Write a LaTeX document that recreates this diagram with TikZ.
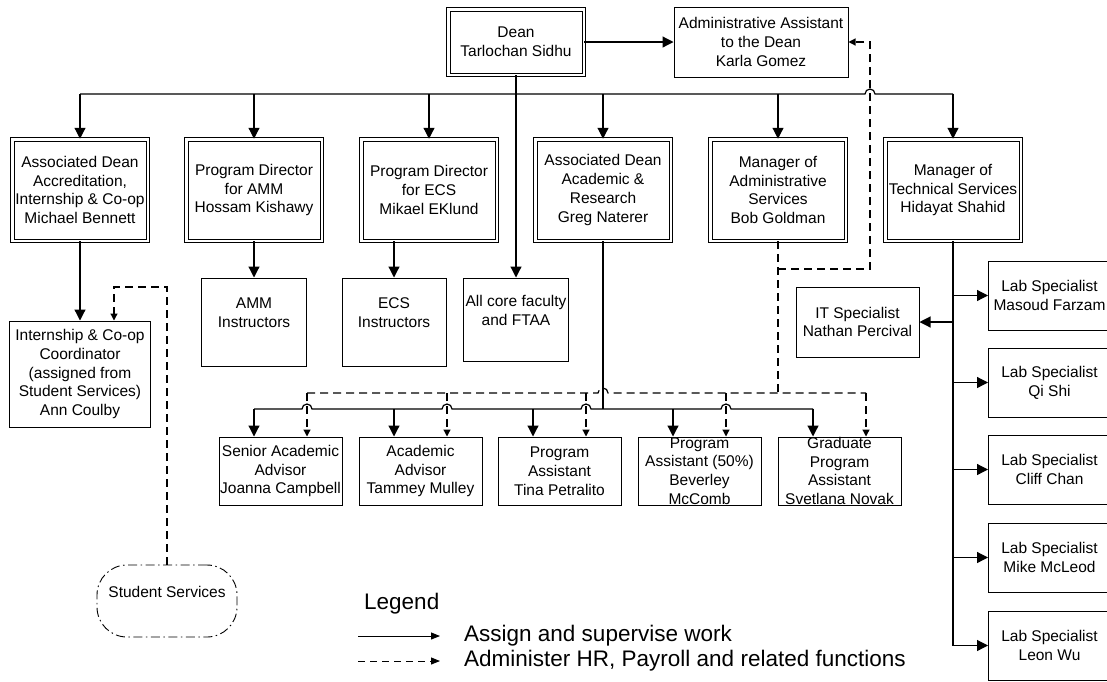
\documentclass[tikz,border=0pt]{standalone}
\usepackage{fontspec}
\setmainfont{Liberation Sans}
\usetikzlibrary{arrows.meta}

\newcommand{\boxfont}{\fontsize{15.5}{18.8}\selectfont}
\newcommand{\legfont}{\fontsize{22.5}{26}\selectfont}

\begin{document}
\begin{tikzpicture}[x=1pt,y=1pt,
		conn/.style={line width=1.2pt},
		hrline/.style={line width=1.2pt, dash pattern=on 8pt off 5pt},
		assign/.style={conn, -{Triangle[length=11pt,width=11pt]}},
		hr/.style={hrline, -{Triangle[length=7pt,width=7pt]}},
		sbox/.style={draw, line width=1pt, rectangle, inner sep=0pt, align=center, font=\boxfont},
		dbox/.style={sbox, double, double distance=2.5pt},
		lvltwo/.style={dbox, minimum width=135.5pt, minimum height=101.5pt},
		instr/.style={sbox, minimum height=88pt},
		staff/.style={sbox, minimum width=123pt, minimum height=68pt},
		lab/.style={sbox, anchor=west, minimum width=122pt, minimum height=69pt}]
		\useasboundingbox (0,0) rectangle (1107,-681);
		% top
		\node[dbox, minimum width=135.5pt, minimum height=65.5pt] (dean) at (516,-42) {Dean\\Tarlochan Sidhu};
		\node[sbox, minimum width=174pt, minimum height=70pt] (asst) at (761,-42) {Administrative Assistant\\to the Dean\\Karla Gomez};
		% second row
		\node[lvltwo] (accr) at (80,-190) {Associated Dean\\Accreditation,\\Internship \& Co-op\\Michael Bennett};
		\node[lvltwo] (amm) at (254,-190) {Program Director\\for AMM\\Hossam Kishawy};
		\node[lvltwo] (ecs) at (429,-190) {Program Director\\for ECS\\Mikael EKlund};
		\node[lvltwo] (acad) at (603,-190) {Associated Dean\\Academic \&\\Research\\Greg Naterer};
		\node[lvltwo] (adm) at (778,-190) {Manager of\\Administrative\\Services\\Bob Goldman};
		\node[lvltwo] (tech) at (953,-190) {Manager of\\Technical Services\\Hidayat Shahid};
		% third row
		\node[sbox, minimum width=141pt, minimum height=106pt] (coop) at (80,-374) {Internship \& Co-op\\Coordinator\\(assigned from\\Student Services)\\Ann Coulby};
		\node[instr, minimum width=105pt] (ammi) at (254,-322) {AMM\\Instructors\\\mbox{}};
		\node[instr, minimum width=104pt] (ecsi) at (394,-322) {ECS\\Instructors\\\mbox{}};
		\node[instr, minimum width=105pt, minimum height=83pt] (core) at (516,-319.5) {All core faculty\\and FTAA\\\mbox{}};
		\node[sbox, minimum width=123pt, minimum height=70pt] (its) at (857.5,-322) {IT Specialist\\Nathan Percival};
		% lab staff
		\node[lab] (lab1) at (988,-295.5) {Lab Specialist\\Masoud Farzam};
		\node[lab] (lab2) at (988,-382.5) {Lab Specialist\\Qi Shi};
		\node[lab] (lab3) at (988,-469.5) {Lab Specialist\\Cliff Chan};
		\node[lab] (lab4) at (988,-557.5) {Lab Specialist\\Mike McLeod};
		\node[lab] (lab5) at (988,-645.5) {Lab Specialist\\Leon Wu};
		% bottom row
		\node[staff] (senior) at (280.5,-471) {Senior Academic\\Advisor\\Joanna Campbell};
		\node[staff] (advisor) at (420.5,-471) {Academic\\Advisor\\Tammey Mulley};
		\node[staff] (progasst) at (559.5,-471) {Program\\Assistant\\Tina Petralito};
		\node[staff] (halfasst) at (699.5,-471) {Program\\Assistant (50\%)\\Beverley\\McComb};
		\node[staff] (gradasst) at (839.5,-471) {Graduate\\Program\\Assistant\\Svetlana Novak};
		\node[draw, line width=0.9pt, dash pattern=on 9pt off 3.5pt on 1.5pt off 3.5pt, rounded corners=30pt,
			minimum width=140pt, minimum height=72pt, inner sep=0pt, align=center, font=\boxfont] (stud) at (167,-601) {Student Services\\\mbox{}};
		% helper points
		\coordinate (bus) at (0,-94);
		\coordinate (dbus) at (0,-393);
		\coordinate (sbus) at (0,-409);
		\coordinate (hrup) at (870,-42);
		\coordinate (hrmid) at (870,-269);
		\coordinate (coopin) at (114,-287);
		\coordinate (sa1) at ([xshift=-26.5pt]senior.north);
		\coordinate (sa2) at ([xshift=-26.5pt]advisor.north);
		\coordinate (sa3) at ([xshift=-26.5pt]progasst.north);
		\coordinate (sa4) at ([xshift=-26.5pt]halfasst.north);
		\coordinate (sa5) at ([xshift=-26.5pt]gradasst.north);
		\coordinate (ha1) at ([xshift=26.5pt]senior.north);
		\coordinate (ha2) at ([xshift=26.5pt]advisor.north);
		\coordinate (ha3) at ([xshift=26.5pt]progasst.north);
		\coordinate (ha4) at ([xshift=26.5pt]halfasst.north);
		\coordinate (ha5) at ([xshift=26.5pt]gradasst.north);
		\coordinate (xt) at (hrup |- bus);
		\coordinate (xg) at (acad.south |- dbus);
		\coordinate (x1) at (ha1 |- sbus);
		\coordinate (x2) at (ha2 |- sbus);
		\coordinate (x3) at (ha3 |- sbus);
		\coordinate (x4) at (ha4 |- sbus);
		% dean lines
		\draw[assign] (dean.east) -- (asst.west);
		\draw[assign] (dean.south) -- (core.north);
		\draw[conn] (accr.north |- bus) -- ([xshift=-5pt]xt) arc (180:0:5pt) -- (tech.north |- bus);
		\draw[assign] (accr.north |- bus) -- (accr.north);
		\draw[assign] (amm.north |- bus) -- (amm.north);
		\draw[assign] (ecs.north |- bus) -- (ecs.north);
		\draw[assign] (acad.north |- bus) -- (acad.north);
		\draw[assign] (adm.north |- bus) -- (adm.north);
		\draw[assign] (tech.north |- bus) -- (tech.north);
		% second row down
		\draw[assign] (accr.south) -- (coop.north);
		\draw[assign] (amm.south) -- (ammi.north);
		\draw[assign] (ecs.south -| ecsi.north) -- (ecsi.north);
		\draw[hr] (stud.north) |- (coopin) -- (coopin |- coop.north);
		% technical services
		\draw[conn] (tech.south) -- (tech.south |- lab5.west);
		\draw[assign] (tech.south |- its.east) -- (its.east);
		\draw[assign] (tech.south |- lab1.west) -- (lab1.west);
		\draw[assign] (tech.south |- lab2.west) -- (lab2.west);
		\draw[assign] (tech.south |- lab3.west) -- (lab3.west);
		\draw[assign] (tech.south |- lab4.west) -- (lab4.west);
		\draw[assign] (tech.south |- lab5.west) -- (lab5.west);
		% academic staff, assign
		\draw[conn] (acad.south) -- (acad.south |- sbus);
		\draw[conn] (sa1 |- sbus) -- ([xshift=-5pt]x1) arc (180:0:5pt) -- ([xshift=-5pt]x2) arc (180:0:5pt)
			-- ([xshift=-5pt]x3) arc (180:0:5pt) -- ([xshift=-5pt]x4) arc (180:0:5pt) -- (sa5 |- sbus);
		\draw[assign] (sa1 |- sbus) -- (sa1);
		\draw[assign] (sa2 |- sbus) -- (sa2);
		\draw[assign] (sa3 |- sbus) -- (sa3);
		\draw[assign] (sa4 |- sbus) -- (sa4);
		\draw[assign] (sa5 |- sbus) -- (sa5);
		% academic staff, HR
		\draw[hrline] (adm.south) -- (adm.south |- dbus);
		\draw[hr] (adm.south |- hrmid) -- (hrmid) -- (hrup) -- (asst.east);
		\draw[hrline] (ha1 |- dbus) -- ([xshift=-5pt]xg) arc (180:0:5pt) -- (ha5 |- dbus);
		\draw[hr] (ha1 |- dbus) -- (ha1);
		\draw[hr] (ha2 |- dbus) -- (ha2);
		\draw[hr] (ha3 |- dbus) -- (ha3);
		\draw[hr] (ha4 |- dbus) -- (ha4);
		\draw[hr] (ha5 |- dbus) -- (ha5);
		% legend
		\node[anchor=west, inner sep=0pt, font=\legfont] (legtitle) at (364,-604) {Legend};
		\node[anchor=west, inner sep=0pt, font=\legfont] (legassign) at (464,-636) {Assign and supervise work};
		\node[anchor=west, inner sep=0pt, font=\legfont] (leghr) at (464,-661) {Administer HR, Payroll and related functions};
		\draw[line width=1pt, -{Triangle[length=9pt,width=7pt]}] ([xshift=-106pt]legassign.west) -- ([xshift=-24pt]legassign.west);
		\draw[line width=1pt, dash pattern=on 7pt off 5pt, -{Triangle[length=9pt,width=7pt]}] ([xshift=-106pt]leghr.west) -- ([xshift=-24pt]leghr.west);
	\end{tikzpicture}
\end{document}
